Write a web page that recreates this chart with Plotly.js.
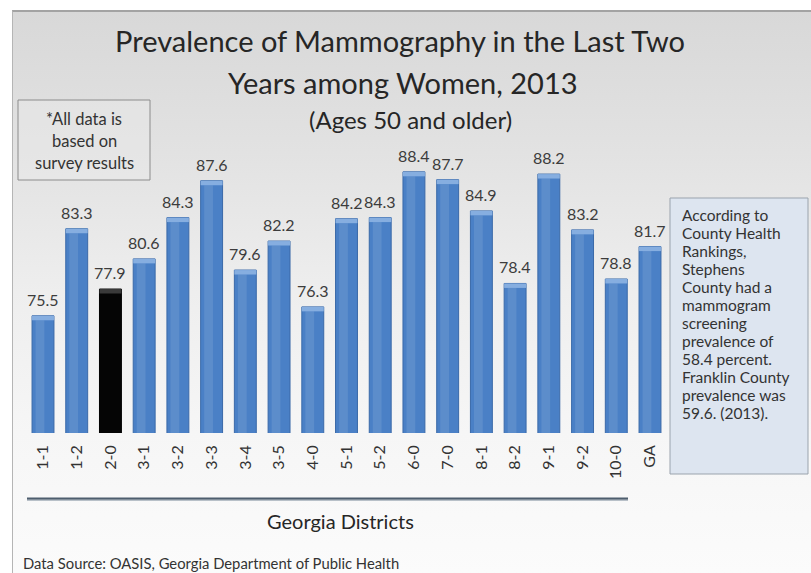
<!DOCTYPE html>
<html>
<head>
<meta charset="utf-8">
<script src="https://cdn.plot.ly/plotly-3.0.1.min.js"></script>
<style>
  html, body { margin: 0; padding: 0; background: #ffffff; }
  #frame {
    position: absolute; left: 12px; top: 10px; width: 799px; height: 563px;
    border-top: 2px solid #a3a3a3; border-left: 1px solid #b5b5b5;
    box-sizing: border-box;
    background: linear-gradient(to bottom, #d8d8d8 0%, #e2e2e2 25%, #eeeeee 50%, #f6f6f6 75%, #fbfbfb 100%);
  }
  #chart { position: absolute; left: 0; top: 0; width: 811px; height: 573px; }
</style>
</head>
<body>
<div id="frame"></div>
<div id="chart"></div>
<script>
// District codes along the x axis
const districts = ['1-1', '1-2', '2-0', '3-1', '3-2', '3-3', '3-4', '3-5', '4-0', '5-1',
                   '5-2', '6-0', '7-0', '8-1', '8-2', '9-1', '9-2', '10-0', 'GA'];
// Percent of women 50+ with a mammogram in the last two years
const prevalence = [75.5, 83.3, 77.9, 80.6, 84.3, 87.6, 79.6, 82.2, 76.3, 84.2,
                    84.3, 88.4, 87.7, 84.9, 78.4, 88.2, 83.2, 78.8, 81.7];
// District shown in black
const highlighted = '2-0';

const FONT = 'Lato, "Open Sans", sans-serif';
const BLUE = '#4a80c6', BLUE_EDGE = '#3a69a8', BLUE_CAP = '#86aee0';
const CAP = 0.4; // thickness of the light cap on top of each bar, in axis units

const barColors = districts.map(d => d === highlighted ? '#050505' : BLUE);
const edgeColors = districts.map(d => d === highlighted ? '#000000' : BLUE_EDGE);
const capColors = districts.map(d => d === highlighted ? '#3a3a3a' : BLUE_CAP);
const shineColors = districts.map(d => d === highlighted ? 'rgba(0,0,0,0)' : 'rgba(255,255,255,0.10)');

const bars = {
  type: 'bar', x: districts, y: prevalence,
  marker: { color: barColors, line: { color: edgeColors, width: 1 } },
  hoverinfo: 'x+y', showlegend: false
};
// soft vertical sheen on the left half of each column
const shine = {
  type: 'bar', x: districts, y: prevalence.map(v => v - CAP),
  width: 0.26, offset: -0.22,
  marker: { color: shineColors, line: { width: 0 } },
  hoverinfo: 'skip', showlegend: false
};
const caps = {
  type: 'bar', x: districts,
  y: prevalence.map(() => CAP),
  base: prevalence.map(v => v - CAP),
  marker: { color: capColors, line: { width: 0 } },
  hoverinfo: 'skip', showlegend: false
};

const valueLabels = districts.map((d, i) => ({
  x: d, y: prevalence[i], xref: 'x', yref: 'y',
  text: prevalence[i].toFixed(1), showarrow: false,
  yanchor: 'bottom', yshift: 5,
  font: { family: FONT, size: 16, color: '#3c3c3c' }
}));

const W = 811, H = 573;
// plot area in pixels
const M = { l: 25, r: 143, t: 154, b: 140 };
const PW = W - M.l - M.r, PH = H - M.t - M.b;
// pixel position -> paper fraction of the plot area
const px = x => (x - M.l) / PW;
const py = y => (H - M.b - y) / PH;

// note box, top left
const noteLines = ['*All data is', 'based on', 'survey results'];
const noteAnn = noteLines.map((t, i) => ({
  xref: 'paper', yref: 'paper', x: px(84), y: py(119 + 22 * i),
  xanchor: 'center', yanchor: 'middle', showarrow: false, text: t,
  font: { family: FONT, size: 16.5, color: '#333333' }
}));

// side box, right
const sideLines = ['According to', 'County Health', 'Rankings,', 'Stephens', 'County had a',
  'mammogram', 'screening', 'prevalence of', '58.4 percent.', 'Franklin County',
  'prevalence was', '59.6. (2013).'];
const sideAnn = sideLines.map((t, i) => ({
  xref: 'paper', yref: 'paper', x: px(680), y: py(215 + 18 * i),
  xanchor: 'left', yanchor: 'middle', showarrow: false, text: t,
  font: { family: FONT, size: 15.5, color: '#333333' }
}));

const layout = {
  width: W, height: H,
  margin: { l: M.l, r: M.r, t: M.t, b: M.b, pad: 0 },
  paper_bgcolor: 'rgba(0,0,0,0)', plot_bgcolor: 'rgba(0,0,0,0)',
  barmode: 'overlay', bargap: 0.35,
  font: { family: FONT, color: '#333333' },
  title: {
    text: 'Prevalence of Mammography in the Last Two',
    xref: 'container', yref: 'container', x: 400 / W, xanchor: 'center',
    y: 1 - 42 / H, yanchor: 'middle',
    font: { family: FONT, size: 29, color: '#262626' }
  },
  xaxis: {
    type: 'category', tickangle: -90, showline: false, showgrid: false,
    zeroline: false, ticks: '', ticklabelstandoff: 8,
    tickfont: { family: FONT, size: 16, color: '#333333' },
    fixedrange: true
  },
  yaxis: {
    range: [65, 90], visible: false, fixedrange: true
  },
  shapes: [
    { type: 'rect', xref: 'paper', yref: 'paper', x0: px(18), x1: px(150), y0: py(180), y1: py(100),
      line: { color: '#8c8c8c', width: 1 }, fillcolor: 'rgba(235,235,235,0.4)', layer: 'below' },
    { type: 'rect', xref: 'paper', yref: 'paper', x0: px(670), x1: px(808), y0: py(474), y1: py(198),
      line: { color: '#9aa3ad', width: 1 }, fillcolor: '#dde5f0', layer: 'below' },
    { type: 'line', xref: 'paper', yref: 'paper', x0: px(27), x1: px(628), y0: py(500), y1: py(500),
      line: { color: '#b8c0c8', width: 2 } },
    { type: 'line', xref: 'paper', yref: 'paper', x0: px(27), x1: px(628), y0: py(498.5), y1: py(498.5),
      line: { color: '#4e5e6e', width: 2 } }
  ],
  annotations: [
    { xref: 'paper', yref: 'paper', x: px(403), y: py(82), xanchor: 'center', yanchor: 'middle',
      showarrow: false, text: 'Years among Women, 2013',
      font: { family: FONT, size: 29, color: '#262626' } },
    { xref: 'paper', yref: 'paper', x: px(410), y: py(119), xanchor: 'center', yanchor: 'middle',
      showarrow: false, text: '(Ages 50 and older)',
      font: { family: FONT, size: 24, color: '#262626' } },
    { xref: 'paper', yref: 'paper', x: px(340), y: py(521), xanchor: 'center', yanchor: 'middle',
      showarrow: false, text: 'Georgia Districts',
      font: { family: FONT, size: 20, color: '#262626' } },
    { xref: 'paper', yref: 'paper', x: px(21), y: py(563), xanchor: 'left', yanchor: 'middle',
      showarrow: false, text: 'Data Source: OASIS, Georgia Department of Public Health',
      font: { family: FONT, size: 14.8, color: '#333333' } }
  ].concat(noteAnn, sideAnn, valueLabels)
};

Plotly.newPlot('chart', [bars, shine, caps], layout, { displayModeBar: false, staticPlot: true });
</script>
</body>
</html>
